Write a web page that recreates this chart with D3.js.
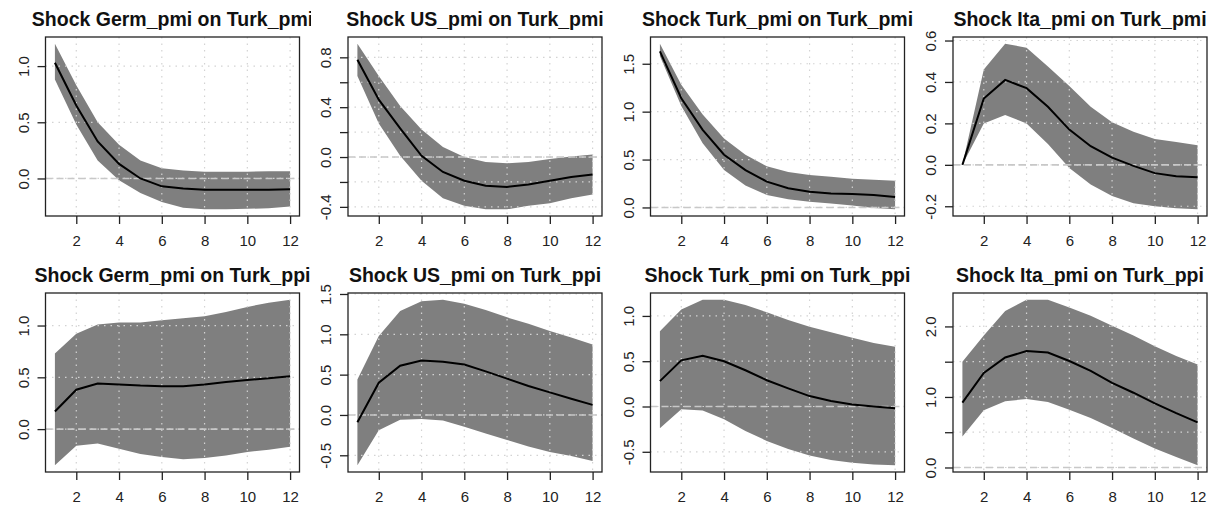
<!DOCTYPE html>
<html>
<head>
<meta charset="utf-8">
<script src="https://cdn.jsdelivr.net/npm/d3@7"></script>
<style>
  body { margin: 0; background: #fff; }
  svg { display: block; }
  .title { font-family: "Liberation Sans", Arial, sans-serif; font-weight: bold; font-size: 19.5px; fill: #111; }
  .axis text { font-family: "Liberation Sans", Arial, sans-serif; font-size: 15px; fill: #222; }
  .axis path { display: none; }
  .axis line { stroke: #222; stroke-width: 1.3; }
</style>
</head>
<body>
<div id="chart"></div>
<script>
// impulse horizon
const horizons = [1, 2, 3, 4, 5, 6, 7, 8, 9, 10, 11, 12];

const titles = [
  'Shock Germ_pmi on Turk_pmi', 'Shock US_pmi on Turk_pmi', 'Shock Turk_pmi on Turk_pmi', 'Shock Ita_pmi on Turk_pmi',
  'Shock Germ_pmi on Turk_ppi', 'Shock US_pmi on Turk_ppi', 'Shock Turk_pmi on Turk_ppi', 'Shock Ita_pmi on Turk_ppi'
];

// response of Turk_pmi
const germPmiMean = [1.03, 0.65, 0.33, 0.13, 0.0, -0.07, -0.09, -0.1, -0.1, -0.1, -0.1, -0.095];
const germPmiHi = [1.2, 0.83, 0.5, 0.3, 0.16, 0.09, 0.07, 0.06, 0.06, 0.06, 0.065, 0.065];
const germPmiLo = [0.88, 0.48, 0.16, -0.015, -0.13, -0.21, -0.26, -0.275, -0.275, -0.27, -0.265, -0.25];

const usPmiMean = [0.78, 0.46, 0.23, 0.01, -0.12, -0.19, -0.23, -0.24, -0.22, -0.19, -0.16, -0.14];
const usPmiHi = [0.91, 0.65, 0.41, 0.22, 0.08, 0.0, -0.04, -0.05, -0.04, -0.015, 0.005, 0.02];
const usPmiLo = [0.65, 0.27, 0.01, -0.19, -0.33, -0.39, -0.42, -0.42, -0.39, -0.37, -0.33, -0.3];

const turkPmiMean = [1.63, 1.14, 0.81, 0.55, 0.39, 0.27, 0.2, 0.165, 0.145, 0.14, 0.13, 0.11];
const turkPmiHi = [1.71, 1.28, 0.97, 0.72, 0.55, 0.43, 0.37, 0.34, 0.32, 0.3, 0.29, 0.28];
const turkPmiLo = [1.58, 1.06, 0.67, 0.39, 0.23, 0.13, 0.085, 0.06, 0.04, 0.02, -0.005, -0.02];

const itaPmiMean = [0.0, 0.32, 0.41, 0.37, 0.28, 0.17, 0.09, 0.035, -0.005, -0.04, -0.055, -0.06];
const itaPmiHi = [0.0, 0.46, 0.585, 0.565, 0.475, 0.38, 0.28, 0.205, 0.16, 0.125, 0.11, 0.095];
const itaPmiLo = [0.0, 0.2, 0.24, 0.2, 0.1, -0.015, -0.095, -0.15, -0.185, -0.2, -0.21, -0.215];

// response of Turk_ppi
const germPpiMean = [0.17, 0.38, 0.44, 0.43, 0.42, 0.415, 0.415, 0.43, 0.455, 0.475, 0.49, 0.51];
const germPpiHi = [0.73, 0.92, 1.01, 1.03, 1.03, 1.05, 1.07, 1.09, 1.13, 1.18, 1.22, 1.25];
const germPpiLo = [-0.35, -0.16, -0.14, -0.19, -0.24, -0.27, -0.29, -0.28, -0.255, -0.22, -0.2, -0.17];

const usPpiMean = [-0.09, 0.4, 0.61, 0.675, 0.66, 0.625, 0.54, 0.45, 0.36, 0.28, 0.2, 0.125];
const usPpiHi = [0.44, 0.98, 1.29, 1.41, 1.43, 1.38, 1.3, 1.21, 1.13, 1.04, 0.96, 0.875];
const usPpiLo = [-0.625, -0.19, -0.06, -0.05, -0.07, -0.145, -0.23, -0.31, -0.39, -0.46, -0.51, -0.57];

const turkPpiMean = [0.28, 0.51, 0.56, 0.5, 0.4, 0.29, 0.2, 0.115, 0.06, 0.022, 0.0, -0.02];
const turkPpiHi = [0.83, 1.07, 1.18, 1.18, 1.12, 1.04, 0.955, 0.88, 0.82, 0.76, 0.7, 0.66];
const turkPpiLo = [-0.24, -0.03, -0.045, -0.14, -0.27, -0.38, -0.47, -0.54, -0.59, -0.62, -0.64, -0.65];

const itaPpiMean = [0.92, 1.34, 1.56, 1.65, 1.63, 1.51, 1.37, 1.2, 1.06, 0.91, 0.77, 0.64];
const itaPpiHi = [1.5, 1.87, 2.22, 2.38, 2.38, 2.27, 2.15, 2.01, 1.87, 1.72, 1.58, 1.46];
const itaPpiLo = [0.44, 0.81, 0.94, 0.97, 0.93, 0.82, 0.7, 0.56, 0.41, 0.27, 0.15, 0.03];

const means = [germPmiMean, usPmiMean, turkPmiMean, itaPmiMean, germPpiMean, usPpiMean, turkPpiMean, itaPpiMean];
const uppers = [germPmiHi, usPmiHi, turkPmiHi, itaPmiHi, germPpiHi, usPpiHi, turkPpiHi, itaPpiHi];
const lowers = [germPmiLo, usPmiLo, turkPmiLo, itaPmiLo, germPpiLo, usPpiLo, turkPpiLo, itaPpiLo];

const xTicks = [2, 4, 6, 8, 10, 12];
const yTicks = [
  [0, 0.5, 1.0], [-0.4, -0.2, 0, 0.2, 0.4, 0.6, 0.8], [0, 0.5, 1.0, 1.5], [-0.2, 0, 0.2, 0.4, 0.6],
  [0, 0.5, 1.0], [-0.5, 0, 0.5, 1.0, 1.5], [-0.5, 0, 0.5, 1.0], [0, 0.5, 1.0, 1.5, 2.0]
];
// labels that R actually printed (others dropped for overlap)
const yLabels = [
  [0, 0.5, 1.0], [-0.4, 0, 0.4, 0.8], [0, 0.5, 1.0, 1.5], [-0.2, 0, 0.2, 0.4, 0.6],
  [0, 0.5, 1.0], [-0.5, 0, 0.5, 1.0, 1.5], [-0.5, 0, 0.5, 1.0], [0, 1.0, 2.0]
];

const width = 1210, height = 512;
const colW = 302.5, rowH = 256;
const box = { left: 45.5, right: 299.5, top: 37, bottom: 216 };
const clipRight = [311, 311, 311, 312];

const svg = d3.select('#chart').append('svg')
  .attr('width', width)
  .attr('height', height);

const defs = svg.append('defs');

titles.forEach((title, i) => {
  const col = i % 4, row = Math.floor(i / 4);
  const g = svg.append('g')
    .attr('transform', 'translate(' + (col * colW) + ',' + (row * rowH) + ')');

  const data = horizons.map((h, j) => ({ h: h, m: means[i][j], lo: lowers[i][j], hi: uppers[i][j] }));

  // R-style 4% padding of the data range
  const ymin = d3.min(data, d => d.lo), ymax = d3.max(data, d => d.hi);
  const pad = (ymax - ymin) * 0.04;
  const x = d3.scaleLinear().domain([1 - 0.44, 12 + 0.44]).range([box.left, box.right]);
  const y = d3.scaleLinear().domain([ymin - pad, ymax + pad]).range([box.bottom, box.top]);

  // band
  g.append('path')
    .datum(data)
    .attr('fill', '#7f7f7f')
    .attr('d', d3.area().x(d => x(d.h)).y0(d => y(d.lo)).y1(d => y(d.hi)));

  // grid (dotted, drawn over the band)
  g.append('g').selectAll('line')
    .data(xTicks).enter()
    .append('line')
    .attr('x1', d => x(d)).attr('x2', d => x(d))
    .attr('y1', box.top).attr('y2', box.bottom)
    .attr('stroke', '#d3d3d3').attr('stroke-width', 1.2)
    .attr('stroke-dasharray', '1.5,5');
  g.append('g').selectAll('line')
    .data(yTicks[i]).enter()
    .append('line')
    .attr('x1', box.left).attr('x2', box.right)
    .attr('y1', d => y(d)).attr('y2', d => y(d))
    .attr('stroke', '#d3d3d3').attr('stroke-width', 1.2)
    .attr('stroke-dasharray', '1.5,5');

  // zero line
  g.append('line')
    .attr('x1', box.left).attr('x2', box.right)
    .attr('y1', y(0)).attr('y2', y(0))
    .attr('stroke', '#c8c8c8').attr('stroke-width', 1.6)
    .attr('stroke-dasharray', '7,4');

  // impulse response
  g.append('path')
    .datum(data)
    .attr('fill', 'none')
    .attr('stroke', '#000')
    .attr('stroke-width', 2)
    .attr('d', d3.line().x(d => x(d.h)).y(d => y(d.m)));

  // axes
  g.append('g')
    .attr('class', 'axis')
    .attr('transform', 'translate(0,' + box.bottom + ')')
    .call(d3.axisBottom(x).tickValues(xTicks).tickSize(8).tickFormat(d3.format('d')))
    .selectAll('text')
    .attr('y', 30).attr('dy', 0);

  const labelSet = yLabels[i];
  g.append('g')
    .attr('class', 'axis')
    .attr('transform', 'translate(' + box.left + ',0)')
    .call(d3.axisLeft(y).tickValues(yTicks[i]).tickSize(8)
      .tickFormat(d => labelSet.some(v => Math.abs(v - d) < 1e-9) ? d.toFixed(1) : ''))
    .selectAll('text')
    .attr('transform', 'rotate(-90)')
    .attr('text-anchor', 'middle')
    .attr('x', 0).attr('y', -17).attr('dy', 0);

  // frame
  g.append('rect')
    .attr('x', box.left).attr('y', box.top)
    .attr('width', box.right - box.left).attr('height', box.bottom - box.top)
    .attr('fill', 'none').attr('stroke', '#222').attr('stroke-width', 1.3);

  // title, clipped at the figure edge like the source
  const clipId = 'clip' + i;
  defs.append('clipPath').attr('id', clipId)
    .append('rect').attr('x', 0).attr('y', 0)
    .attr('width', clipRight[col]).attr('height', 40);
  g.append('text')
    .attr('class', 'title')
    .attr('clip-path', 'url(#' + clipId + ')')
    .attr('x', (box.left + box.right) / 2)
    .attr('y', 26)
    .attr('text-anchor', 'middle')
    .text(title);
});
</script>
</body>
</html>
